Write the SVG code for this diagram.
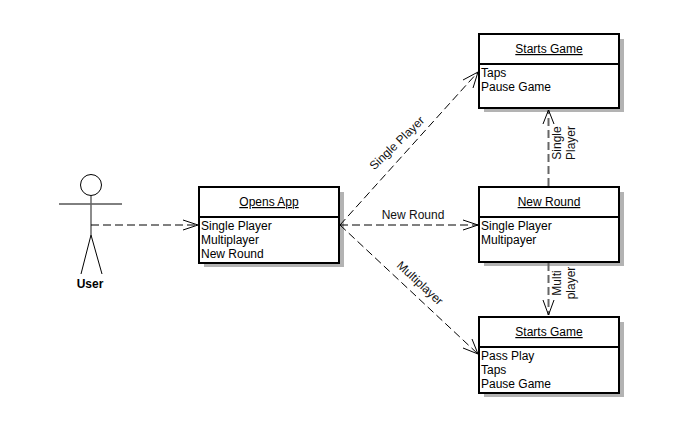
<svg xmlns="http://www.w3.org/2000/svg" width="690" height="432" viewBox="0 0 690 432">
<style>
text{font-family:"Liberation Sans",Arial,sans-serif;font-size:12px;fill:#000}
.c{text-anchor:middle}
.u{text-decoration:underline}
.l{fill:#111}
.box{fill:#fff;stroke:#000;stroke-width:2}
.div{fill:none;stroke:#000;stroke-width:2}
.tick{fill:none;stroke:#b3b3b3;stroke-width:1}
.actor{fill:none;stroke:#000;stroke-width:1}
.dash{fill:none;stroke:#000;stroke-width:1;stroke-dasharray:8 4}
.head{fill:none;stroke:#000;stroke-width:1}
.grey{stroke:#666;stroke-width:2}
</style>
<rect width="690" height="432" fill="#fff"/>
<g id="user">
<circle cx="91" cy="185" r="10.500" fill="#fff" stroke="#000"/>
<path class="actor" d="M59 204H122M81 274L91 235L102 274"/>
<path d="M91 196V235" fill="none" stroke="#666" stroke-width="1.500"/>
<text class="c" x="90" y="288" style="font-weight:bold">User</text>
</g>
<g id="opens-app">
<rect fill="#b3b3b3" x="204" y="192" width="140" height="75"/>
<rect class="box" x="199" y="187" width="140" height="76"/>
<path class="div" d="M199 217H339"/>
<text class="c u" x="269" y="206">Opens App</text>
<text x="201" y="230">Single Player</text>
<text x="201" y="244">Multiplayer</text>
<text x="201" y="258">New Round</text>
</g>
<g id="starts-game-top">
<rect fill="#b3b3b3" x="484" y="39" width="140" height="73"/>
<path class="tick" d="M619 68.500H624"/>
<rect class="box" x="479" y="34" width="140" height="74"/>
<path class="div" d="M479 64H619"/>
<text class="c u" x="549" y="53">Starts Game</text>
<text x="481" y="77">Taps</text>
<text x="481" y="91">Pause Game</text>
</g>
<g id="new-round">
<rect fill="#b3b3b3" x="484" y="192" width="140" height="74"/>
<path class="tick" d="M619 221.500H624"/>
<rect class="box" x="479" y="187" width="140" height="75"/>
<path class="div" d="M479 217H619"/>
<text class="c u" x="549" y="206">New Round</text>
<text x="481" y="230">Single Player</text>
<text x="481" y="244">Multipayer</text>
</g>
<g id="starts-game-bottom">
<rect fill="#b3b3b3" x="484" y="322" width="140" height="75"/>
<path class="tick" d="M619 351.500H624"/>
<rect class="box" x="479" y="317" width="140" height="76"/>
<path class="div" d="M479 347H619"/>
<text class="c u" x="549" y="336">Starts Game</text>
<text x="481" y="360">Pass Play</text>
<text x="481" y="374">Taps</text>
<text x="481" y="388">Pause Game</text>
</g>
<g id="connectors">
<path class="dash" d="M91 225H198"/>
<path class="head" d="M183 220L198 225L183 230"/>
<path class="dash" d="M340 225L478 72"/>
<path class="head" d="M463 80L478 72L473 88"/>
<path class="dash" d="M340 225H478"/>
<path class="head" d="M463 220L478 225L463 230"/>
<path class="dash" d="M340 225L478 354"/>
<path class="head" d="M472 339L478 354L463 348"/>
<path class="dash grey" d="M548.500 186V110"/>
<path class="head" d="M543 124L548.500 110L554 124"/>
<path class="dash grey" d="M548.500 263V315"/>
<path class="head" d="M543 300L548.500 315L554 300"/>
<text class="c l" transform="translate(556.500 143) rotate(-90)" x="0" y="4">Single</text>
<text class="c l" transform="translate(570.500 143) rotate(-90)" x="0" y="4">Player</text>
<text class="c l" transform="translate(556.500 283) rotate(-90)" x="0" y="4">Multi</text>
<text class="c l" transform="translate(570.500 283) rotate(-90)" x="0" y="4">player</text>
<text class="c l" transform="translate(397 143) rotate(-44)" x="0" y="4">Single Player</text>
<text class="c l" x="413" y="219">New Round</text>
<text class="c l" transform="translate(420 283) rotate(43)" x="0" y="4">Multiplayer</text>
</g>
</svg>
